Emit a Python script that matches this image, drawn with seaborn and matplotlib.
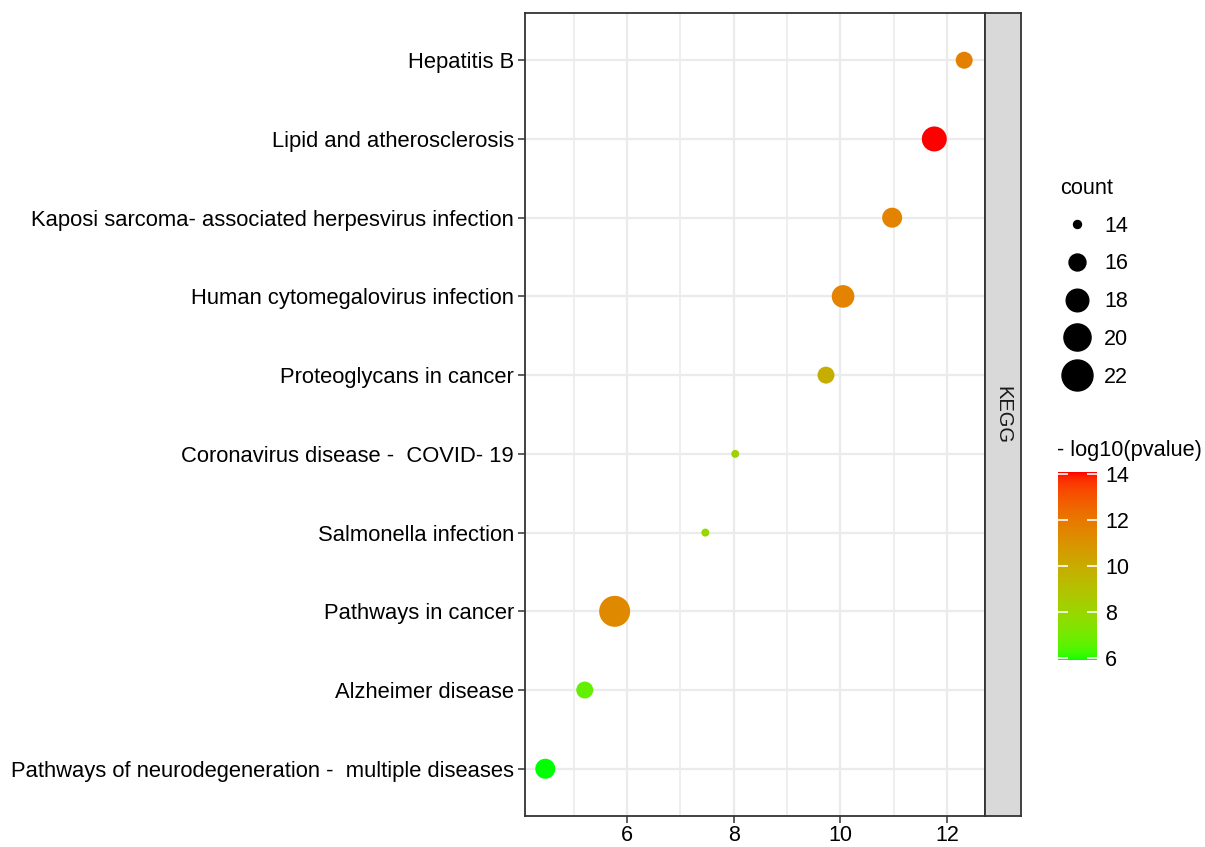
import numpy as np
import pandas as pd
import matplotlib
matplotlib.use("Agg")
import matplotlib.pyplot as plt
import seaborn as sns
from matplotlib.colors import ListedColormap, Normalize
from matplotlib.cm import ScalarMappable
from matplotlib.lines import Line2D
from matplotlib.ticker import FixedLocator

# ---- data (bottom to top) ----
terms = [
    "Pathways of neurodegeneration -  multiple diseases",
    "Alzheimer disease",
    "Pathways in cancer",
    "Salmonella infection",
    "Coronavirus disease -  COVID- 19",
    "Proteoglycans in cancer",
    "Human cytomegalovirus infection",
    "Kaposi sarcoma- associated herpesvirus infection",
    "Lipid and atherosclerosis",
    "Hepatitis B",
]
enrichment = [4.47, 5.21, 5.77, 7.47, 8.03, 9.73, 10.05, 10.97, 11.76, 12.32]
counts = [17, 16, 23, 14, 14, 16, 18, 17, 19, 16]
neglog10p = [5.92, 6.7, 11.4, 8.0, 8.2, 9.9, 11.6, 11.6, 14.08, 11.7]
size_breaks = [14, 16, 18, 20, 22]
color_breaks = [6, 8, 10, 12, 14]
facet_label = "KEGG"

df = pd.DataFrame({"term": terms, "x": enrichment, "count": counts, "p": neglog10p})

# ---- green -> red gradient interpolated in Lab (like ggplot) ----
def srgb_to_lab(rgb):
    rgb = np.asarray(rgb, float)
    lin = np.where(rgb <= 0.04045, rgb / 12.92, ((rgb + 0.055) / 1.055) ** 2.4)
    M = np.array([[0.4124, 0.3576, 0.1805], [0.2126, 0.7152, 0.0722], [0.0193, 0.1192, 0.9505]])
    xyz = M @ lin
    wp = np.array([0.95047, 1.0, 1.08883])
    t = xyz / wp
    f = np.where(t > (6 / 29) ** 3, np.cbrt(t), t / (3 * (6 / 29) ** 2) + 4 / 29)
    return np.array([116 * f[1] - 16, 500 * (f[0] - f[1]), 200 * (f[1] - f[2])])

def lab_to_srgb(lab):
    L, a, b = lab
    fy_ = (L + 16) / 116
    fx_ = fy_ + a / 500
    fz_ = fy_ - b / 200
    def finv(f):
        return np.where(f > 6 / 29, f ** 3, 3 * (6 / 29) ** 2 * (f - 4 / 29))
    wp = np.array([0.95047, 1.0, 1.08883])
    xyz = np.array([finv(fx_), finv(fy_), finv(fz_)]) * wp
    Minv = np.array([[3.2406, -1.5372, -0.4986], [-0.9689, 1.8758, 0.0415], [0.0557, -0.2040, 1.0570]])
    lin = np.clip(Minv @ xyz, 0, 1)
    rgb = np.where(lin <= 0.0031308, 12.92 * lin, 1.055 * lin ** (1 / 2.4) - 0.055)
    return np.clip(rgb, 0, 1)

lab_g = srgb_to_lab([0, 1, 0])
lab_r = srgb_to_lab([1, 0, 0])
cols = [lab_to_srgb(lab_g + (lab_r - lab_g) * t) for t in np.linspace(0, 1, 256)]
cmap = ListedColormap(cols)

vmin, vmax = min(neglog10p), max(neglog10p)
cnorm = Normalize(vmin, vmax)

W, H = 1205, 847
plt.rcParams["font.family"] = ["Liberation Sans", "DejaVu Sans"]
fig = plt.figure(figsize=(W / 100, H / 100), dpi=100)

def fx(px):
    return px / W
def fy(py):
    return 1 - py / H

top, bot = 13, 816
ax = fig.add_axes([fx(525), fy(bot), fx(985 - 525), (bot - top) / H])

smin, smax = 33, 498
snorm = (14, 22)

sns.scatterplot(data=df, x="x", y="term", hue="p", palette=cmap, hue_norm=cnorm,
                size="count", sizes=(smin, smax), size_norm=snorm,
                linewidth=0, legend=False, ax=ax, zorder=3)

ax.set_xlim(4.09, 12.71)
ax.set_ylim(-0.6, len(terms) - 0.4)
ax.xaxis.set_major_locator(FixedLocator([6, 8, 10, 12]))
ax.xaxis.set_minor_locator(FixedLocator([5, 7, 9, 11]))
ax.grid(which="major", color="#EBEBEB", linewidth=1.6, zorder=0)
ax.grid(which="minor", axis="x", color="#EBEBEB", linewidth=1.2, zorder=0)
ax.set_axisbelow(True)
ax.set_xlabel("")
ax.set_ylabel("")
for s in ax.spines.values():
    s.set_color("#333333")
    s.set_linewidth(1.3)
ax.tick_params(axis="y", which="major", length=5, width=1.1, color="#333333",
               labelsize=15.8, labelcolor="black", pad=3)
ax.tick_params(axis="x", which="major", length=5, width=1.1, color="#333333",
               labelsize=15.5, labelcolor="black", pad=1.5)
ax.tick_params(axis="x", which="minor", length=0)
ax.set_facecolor("white")

# strip
sax = fig.add_axes([fx(985), fy(bot), fx(1021 - 985), (bot - top) / H])
sax.set_facecolor("#D9D9D9")
sax.set_xticks([])
sax.set_yticks([])
for s in sax.spines.values():
    s.set_color("#333333")
    s.set_linewidth(1.3)
sax.text(0.5, 0.5, facet_label, rotation=-90, ha="center", va="center",
         fontsize=14.5, color="#1A1A1A", transform=sax.transAxes)

# size legend
def area(c):
    return smin + (c - snorm[0]) / (snorm[1] - snorm[0]) * (smax - smin)

handles = [Line2D([], [], linestyle="", marker="o", color="black",
                  markersize=np.sqrt(area(c))) for c in size_breaks]
leg = fig.legend(handles, [str(c) for c in size_breaks], title="count",
                 loc="upper left", bbox_to_anchor=(fx(1049), fy(167)),
                 frameon=False, fontsize=15.5, title_fontsize=15.7,
                 labelspacing=0.78, handletextpad=0.45, borderpad=0, handlelength=1.6)
leg._legend_box.align = "left"

# colour bar
cax = fig.add_axes([fx(1058), fy(660), fx(39), 188 / H])
sm = ScalarMappable(norm=cnorm, cmap=cmap)
cb = fig.colorbar(sm, cax=cax, ticks=color_breaks)
cb.outline.set_visible(False)
cax.yaxis.set_ticks_position("both")
cax.tick_params(axis="y", direction="in", color="white", length=7, width=1.2,
                labelsize=15.5, labelcolor="black", labelleft=False, labelright=True, pad=6)
fig.text(fx(1057), fy(450), "- log10(pvalue)", fontsize=15.7, ha="left", va="center")

fig.savefig("out.png", dpi=100, facecolor="white")
